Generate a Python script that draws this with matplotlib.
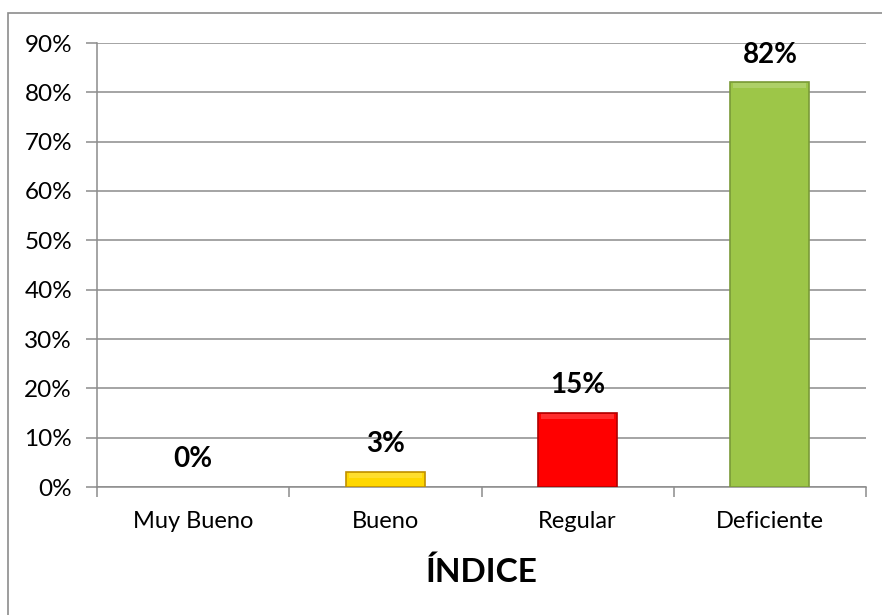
import numpy as np
import matplotlib
matplotlib.use("Agg")
import matplotlib.pyplot as plt
from matplotlib.patches import Rectangle
from matplotlib.ticker import PercentFormatter

# datos del grafico
categorias = ["Muy Bueno", "Bueno", "Regular", "Deficiente"]
porcentajes = [0, 3, 15, 82]
colores = ["#FFD700", "#FFD700", "#FF0000", "#9DC648"]
bordes = ["#C09000", "#C09000", "#B00000", "#7A9A38"]
titulo_x = "ÍNDICE"

plt.rcParams["font.family"] = ["Lato", "DejaVu Sans"]

fig = plt.figure(figsize=(8.82, 6.15), dpi=100)
ax = fig.add_axes([97 / 882, 1 - 487 / 615, (866 - 97) / 882, (487 - 43) / 615])

# borde del grafico (como en excel)
fig.patches.append(Rectangle((8 / 882, -0.1), 1.2, 1 - 13 / 615 + 0.1,
                             transform=fig.transFigure, fill=False,
                             edgecolor="#8C8C8C", linewidth=1.2))

x = np.arange(len(categorias))
valores = np.array(porcentajes) / 100
anchos_borde = [1.2 if v > 0 else 0 for v in porcentajes]
barras = ax.bar(x, valores, width=0.41, color=colores, edgecolor=bordes,
                linewidth=anchos_borde, zorder=3)

# brillo arriba de cada barra
for b in barras:
    if b.get_height() > 0:
        h = min(0.01, b.get_height() * 0.3)
        ax.add_patch(Rectangle((b.get_x() + 0.015, b.get_height() - h - 0.002),
                               b.get_width() - 0.03, h, facecolor="white",
                               alpha=0.18, linewidth=0, zorder=4))

# etiquetas de datos
for xi, v in zip(x, porcentajes):
    ax.annotate(f"{v}%", (xi, v / 100), xytext=(0, 20), textcoords="offset points",
                ha="center", va="center", fontsize=20, fontweight="bold")

ax.set_xlim(-0.5, 3.5)
ax.set_ylim(0, 0.9)
ax.set_yticks(np.arange(0, 0.91, 0.1))
ax.yaxis.set_major_formatter(PercentFormatter(1.0, decimals=0))
ax.grid(axis="y", color="#8C8C8C", linewidth=1.1, zorder=0)
ax.set_axisbelow(True)

ax.set_xticks(x)
ax.set_xticklabels(categorias)
ax.set_xticks(np.arange(-0.5, 3.6, 1), minor=True)
ax.tick_params(axis="x", which="major", length=0, pad=17, labelsize=17)
ax.tick_params(axis="x", which="minor", length=7, color="#8C8C8C", width=1.1)
ax.tick_params(axis="y", length=8, color="#8C8C8C", width=1.1, pad=10, labelsize=17.5)

for s in ["top", "right"]:
    ax.spines[s].set_visible(False)
ax.spines["left"].set_color("#8C8C8C")
ax.spines["bottom"].set_color("#8C8C8C")
ax.spines["left"].set_linewidth(1.1)
ax.spines["bottom"].set_linewidth(1.1)

ax.set_xlabel(titulo_x, fontsize=24, fontweight="bold", labelpad=18)

fig.savefig("out.png", dpi=100)
